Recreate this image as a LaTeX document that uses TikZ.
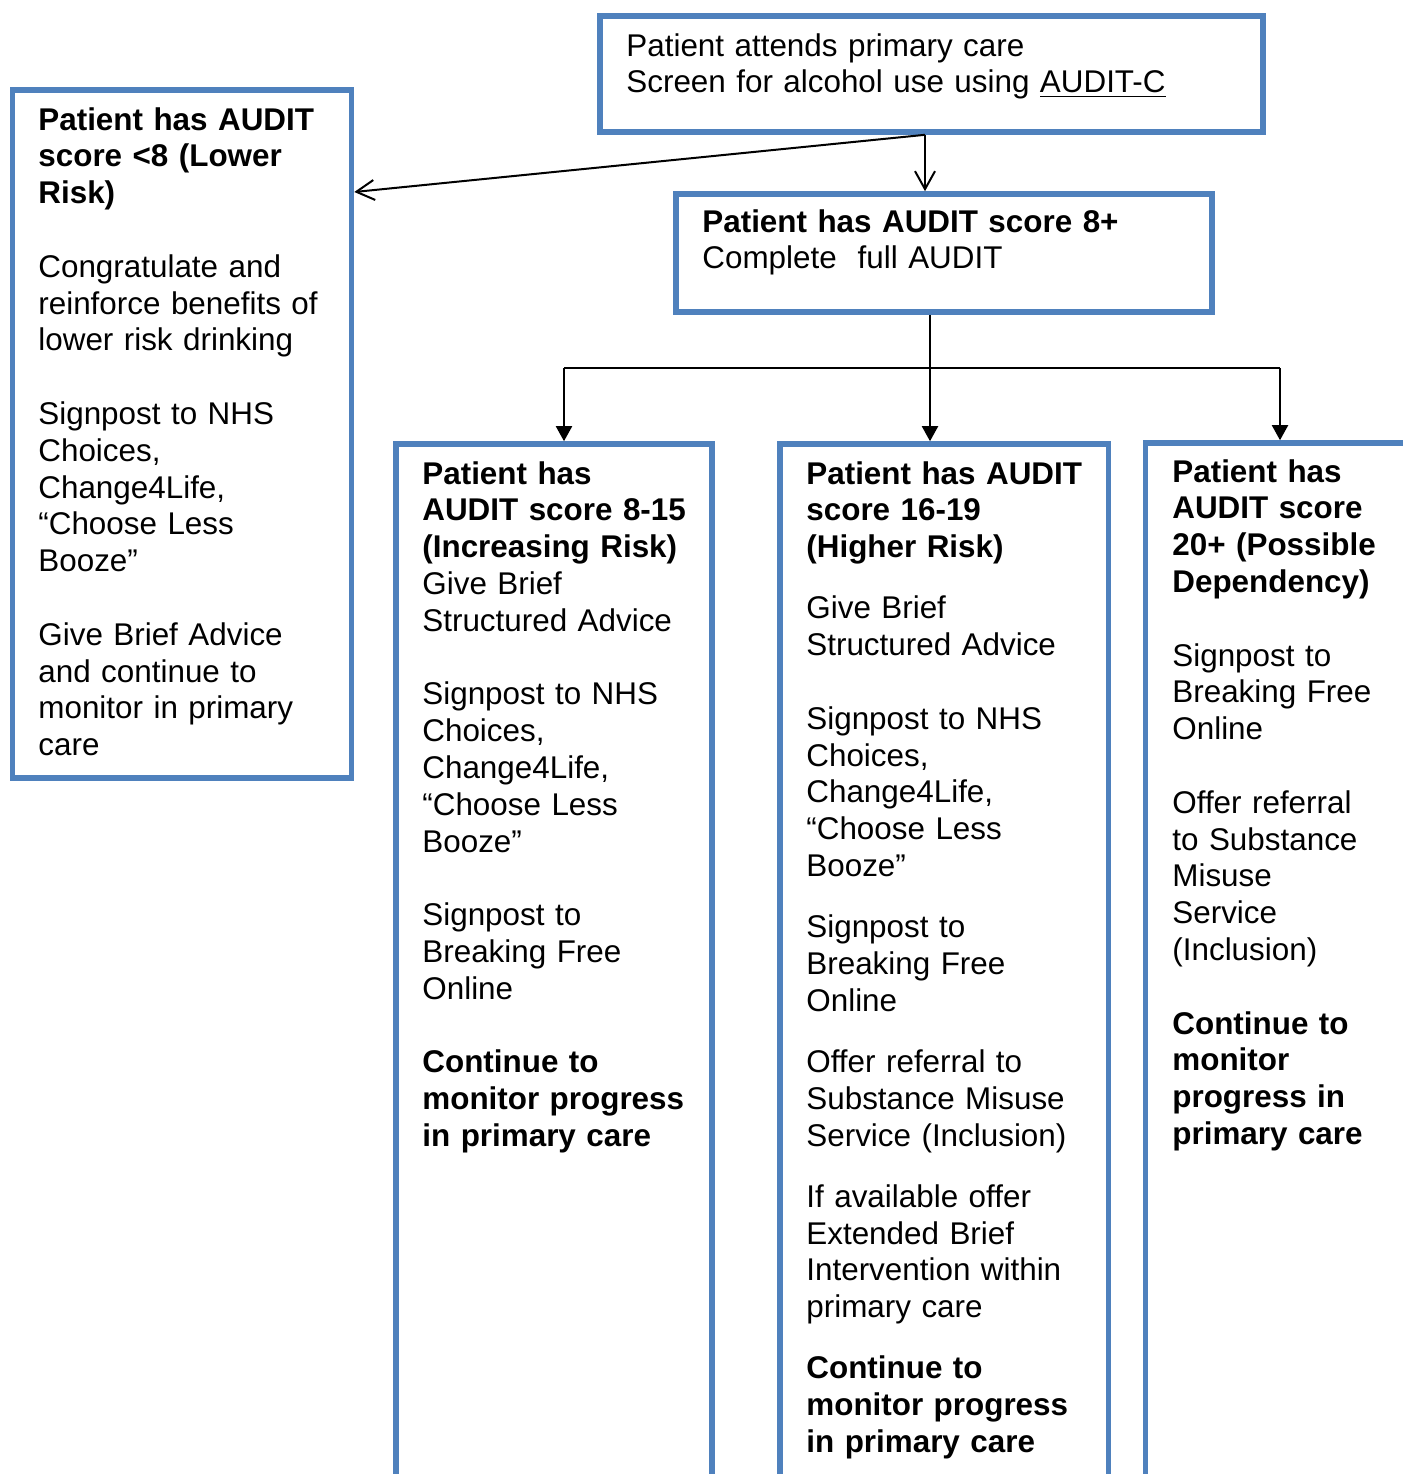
\documentclass[tikz,border=0pt]{standalone}
\usepackage{fontspec}
\setmainfont{Liberation Sans}
\usetikzlibrary{arrows.meta}
\definecolor{boxblue}{HTML}{4F81BD}
\tikzset{
  box/.style={draw=boxblue, line width=2.8pt, rectangle, inner sep=0pt, anchor=north west, fill=none, xshift=-1.4pt, yshift=1.4pt},
  txt/.style={inner sep=0pt, anchor=base west, align=left, text width=300pt, font=\fontsize{15.7}{18.4}\selectfont},
  conn/.style={draw=black, line width=1pt},
  openarrow/.style={conn, -{Straight Barb[length=9pt,width=10pt,line width=1pt]}},
  filledarrow/.style={conn, -{Triangle[length=7.5pt,width=8pt]}}
}
\newcommand{\blank}{\\[18.4pt]}
\newcommand{\halfblank}{\\[12.2pt]}
\begin{document}
\begin{tikzpicture}[x=0.5pt,y=-0.5pt]
\useasboundingbox (0,0) rectangle (1403,1474);
\clip (0,0) rectangle (1403,1474);
\fill[white] (0,0) rectangle (1403,1474);

% boxes
\node[box, minimum width=331.5pt, minimum height=58pt] (top) at (600,16) {};
\node[box, minimum width=169.5pt, minimum height=344pt] (lft) at (12.5,90) {};
\node[box, minimum width=268pt, minimum height=59pt] (mid) at (676,194) {};
\node[box, minimum width=158pt, minimum height=540pt] (bA) at (396,444) {};
\node[box, minimum width=164.25pt, minimum height=540pt] (bB) at (780,444) {};
\node[box, minimum width=145pt, minimum height=540pt] (bC) at (1145.5,443) {};

% texts
\node[txt] (tTop) at (626,56) {Patient attends primary care\\Screen for alcohol use using \underline{AUDIT-C}};
\node[txt] (tLft) at (38,130) {{\bfseries Patient has AUDIT\\score <8 (Lower\\Risk)}\blank
Congratulate and\\reinforce benefits of\\lower risk drinking\blank
Signpost to NHS\\Choices,\\Change4Life,\\“Choose Less\\Booze”\blank
Give Brief Advice\\and continue to\\monitor in primary\\care};
\node[txt] (tMid) at (702,232) {{\bfseries Patient has AUDIT score 8+}\\Complete~ full AUDIT};
\node[txt] (tA) at (422,484) {{\bfseries Patient has\\AUDIT score 8-15\\(Increasing Risk)}\\Give Brief\\Structured Advice\blank
Signpost to NHS\\Choices,\\Change4Life,\\“Choose Less\\Booze”\blank
Signpost to\\Breaking Free\\Online\blank
{\bfseries Continue to\\monitor progress\\in primary care}};
\node[txt] (tB) at (806,484) {{\bfseries Patient has AUDIT\\score 16-19\\(Higher Risk)}\halfblank
Give Brief\\Structured Advice\blank
Signpost to NHS\\Choices,\\Change4Life,\\“Choose Less\\Booze”\halfblank
Signpost to\\Breaking Free\\Online\halfblank
Offer referral to\\Substance Misuse\\Service (Inclusion)\halfblank
If available offer\\Extended Brief\\Intervention within\\primary care\halfblank
{\bfseries Continue to\\monitor progress\\in primary care}};
\node[txt] (tC) at (1172,482) {{\bfseries Patient has\\AUDIT score\\20+ (Possible\\Dependency)}\blank
Signpost to\\Breaking Free\\Online\blank
Offer referral\\to Substance\\Misuse\\Service\\(Inclusion)\blank
{\bfseries Continue to\\monitor\\progress in\\primary care}};

% connectors
\coordinate (s) at (925,132);
\coordinate (lt) at (353,192);
\coordinate (jA) at (564,368);
\coordinate (jB) at (930,368);
\coordinate (jC) at (1280,368);
\draw[openarrow] (top.south -| s) -- (s |- mid.north);
\draw[openarrow] (top.south -| s) -- (lt -| lft.east);
\draw[conn] (mid.south -| jB) -- (jB);
\draw[conn] (jA) -- (jC);
\draw[filledarrow] (jA) -- (jA |- bA.north);
\draw[filledarrow] (jB) -- (jB |- bB.north);
\draw[filledarrow] (jC) -- (jC |- bC.north);
\end{tikzpicture}
\end{document}
